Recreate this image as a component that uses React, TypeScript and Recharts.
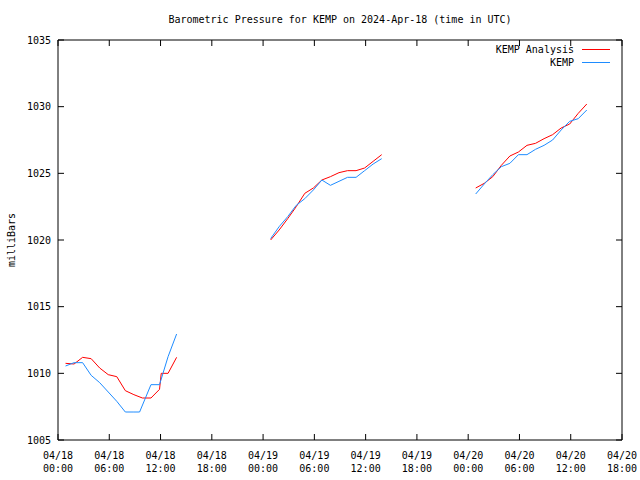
import React from 'react';
import { LineChart, Line, XAxis, YAxis, Legend, Label } from 'recharts';

const FONT = '"DejaVu Sans Mono", "Liberation Mono", monospace';

const titleText = 'Barometric Pressure for KEMP on 2024-Apr-18 (time in UTC)';
const yAxisTitle = 'milliBars';

const tickHours = [0, 6, 12, 18, 24, 30, 36, 42, 48, 54, 60, 66];
const tickDates = ['04/18', '04/18', '04/18', '04/18', '04/19', '04/19', '04/19', '04/19', '04/20', '04/20', '04/20', '04/20'];
const tickTimes = ['00:00', '06:00', '12:00', '18:00', '00:00', '06:00', '12:00', '18:00', '00:00', '06:00', '12:00', '18:00'];
const pressureTicks = [1005, 1010, 1015, 1020, 1025, 1030, 1035];

const seriesNames = ['KEMP Analysis', 'KEMP'];
const seriesColors = ['#ff0000', '#1e8cff'];

// hours since 04/18 00:00 UTC (null value = gap in record)
const analysisHours = [
  0.88, 1.88, 2.88, 3.88, 4.88, 5.88, 6.88, 7.88, 8.88, 9.88, 10.88, 11.88, 12.08, 12.88, 13.88,
  19,
  24.88, 25.88, 26.88, 27.88, 28.88, 29.88, 30.88, 31.88, 32.88, 33.88, 34.88, 35.88, 36.88, 37.88,
  43,
  48.88, 49.88, 50.88, 51.88, 52.88, 53.88, 54.88, 55.88, 56.88, 57.88, 58.88, 59.88, 60.88, 61.88,
];
const analysisValues = [
  1010.75, 1010.7, 1011.2, 1011.1, 1010.4, 1009.9, 1009.75, 1008.7, 1008.4, 1008.15, 1008.15, 1008.8, 1010.0, 1010.0, 1011.2,
  null,
  1020.0, 1020.75, 1021.6, 1022.5, 1023.5, 1023.9, 1024.5, 1024.75, 1025.05, 1025.2, 1025.2, 1025.4, 1025.9, 1026.4,
  null,
  1023.9, 1024.25, 1024.75, 1025.6, 1026.3, 1026.6, 1027.1, 1027.25, 1027.6, 1027.9, 1028.4, 1028.7, 1029.5, 1030.2,
];

const kempHours = [
  0.88, 1.88, 2.88, 3.88, 4.88, 5.88, 6.88, 7.88, 8.88, 9.55, 10.88, 11.88, 12.88, 13.88,
  19,
  24.88, 25.88, 26.88, 27.88, 28.88, 29.88, 30.88, 31.88, 32.88, 33.88, 34.88, 35.88, 36.88, 37.88,
  43,
  48.88, 49.88, 50.88, 51.88, 52.88, 53.88, 54.88, 55.88, 56.88, 57.88, 58.88, 59.88, 60.88, 61.88,
];
const kempValues = [
  1010.55, 1010.8, 1010.8, 1009.85, 1009.3, 1008.6, 1007.9, 1007.1, 1007.1, 1007.1, 1009.15, 1009.15, 1011.25, 1012.95,
  null,
  1020.1, 1021.0, 1021.75, 1022.6, 1023.1, 1023.75, 1024.5, 1024.1, 1024.4, 1024.7, 1024.7, 1025.2, 1025.7, 1026.1,
  null,
  1023.45, 1024.2, 1024.9, 1025.5, 1025.75, 1026.4, 1026.4, 1026.8, 1027.1, 1027.5, 1028.25, 1028.9, 1029.1, 1029.75,
];

const analysisData = analysisHours.map((t, i) => ({ t, p: analysisValues[i] }));
const kempData = kempHours.map((t, i) => ({ t, p: kempValues[i] }));

const TICK_LEN = 6;

const BottomTick = (props: any) => {
  const { x, y, index } = props;
  return (
    <g>
      <line x1={x} y1={y} x2={x} y2={y - TICK_LEN} stroke="#000" />
      <text x={x} y={y + 15} textAnchor="middle" dominantBaseline="central" fontFamily={FONT} fontSize={10} fill="#000">
        {tickDates[index]}
      </text>
      <text x={x} y={y + 28} textAnchor="middle" dominantBaseline="central" fontFamily={FONT} fontSize={10} fill="#000">
        {tickTimes[index]}
      </text>
    </g>
  );
};

const TopTick = (props: any) => {
  const { x, y } = props;
  return <line x1={x} y1={y} x2={x} y2={y + TICK_LEN} stroke="#000" />;
};

const LeftTick = (props: any) => {
  const { x, y, payload } = props;
  return (
    <g>
      <line x1={x} y1={y} x2={x + TICK_LEN} y2={y} stroke="#000" />
      <text x={x - 7} y={y} textAnchor="end" dominantBaseline="central" fontFamily={FONT} fontSize={10} fill="#000">
        {payload.value}
      </text>
    </g>
  );
};

const RightTick = (props: any) => {
  const { x, y } = props;
  return <line x1={x} y1={y} x2={x - TICK_LEN} y2={y} stroke="#000" />;
};

const TitleLabel = (props: any) => {
  const vb = props.viewBox || {};
  return (
    <text x={vb.x + vb.width / 2} y={vb.y - 20} textAnchor="middle" dominantBaseline="central" fontFamily={FONT} fontSize={10} fill="#000">
      {titleText}
    </text>
  );
};

const YTitleLabel = (props: any) => {
  const vb = props.viewBox || {};
  const cx = vb.x + 11;
  const cy = vb.y + vb.height / 2;
  return (
    <text x={cx} y={cy} transform={`rotate(-90, ${cx}, ${cy})`} textAnchor="middle" dominantBaseline="central" fontFamily={FONT} fontSize={10} fill="#000">
      {yAxisTitle}
    </text>
  );
};

const LegendContent = () => (
  <div style={{ fontFamily: FONT, fontSize: 10, color: '#000' }}>
    {seriesNames.map((name, i) => (
      <div key={name} style={{ display: 'flex', justifyContent: 'flex-end', alignItems: 'center', height: 13 }}>
        <span style={{ lineHeight: '13px', whiteSpace: 'pre' }}>{name}</span>
        <svg width={36} height={13} style={{ display: 'block' }}>
          <line x1={8} y1={6.5} x2={36} y2={6.5} stroke={seriesColors[i]} strokeWidth={1} />
        </svg>
      </div>
    ))}
  </div>
);

export default function App() {
  return (
    <div style={{ position: 'absolute', left: 0, top: 0, width: 640, height: 480, background: '#fff' }}>
      <LineChart width={640} height={480} margin={{ top: 39, right: 17, bottom: 0, left: 0 }}>
        <XAxis
          dataKey="t"
          type="number"
          domain={[0, 66]}
          ticks={tickHours}
          allowDataOverflow
          height={40}
          tickSize={0}
          tickMargin={0}
          tickLine={false}
          tick={<BottomTick />}
          axisLine={{ stroke: '#000' }}
          interval={0}
        />
        <XAxis
          xAxisId="top"
          orientation="top"
          dataKey="t"
          type="number"
          domain={[0, 66]}
          ticks={tickHours}
          allowDataOverflow
          height={1}
          tickSize={0}
          tickMargin={0}
          tickLine={false}
          tick={<TopTick />}
          axisLine={{ stroke: '#000' }}
          interval={0}
        >
          <Label content={<TitleLabel />} />
        </XAxis>
        <YAxis
          type="number"
          domain={[1005, 1035]}
          ticks={pressureTicks}
          allowDataOverflow
          width={58}
          tickSize={0}
          tickMargin={0}
          tickLine={false}
          tick={<LeftTick />}
          axisLine={{ stroke: '#000' }}
          interval={0}
        >
          <Label content={<YTitleLabel />} />
        </YAxis>
        <YAxis
          yAxisId="right"
          orientation="right"
          type="number"
          domain={[1005, 1035]}
          ticks={pressureTicks}
          allowDataOverflow
          width={1}
          tickSize={0}
          tickMargin={0}
          tickLine={false}
          tick={<RightTick />}
          axisLine={{ stroke: '#000' }}
          interval={0}
        />
        <Legend
          layout="vertical"
          align="center"
          verticalAlign="middle"
          content={<LegendContent />}
          wrapperStyle={{ position: 'absolute', top: 43, right: 30, left: 'auto', bottom: 'auto', width: 'auto', margin: 0 }}
        />
        <Line
          data={analysisData}
          dataKey="p"
          name={seriesNames[0]}
          type="linear"
          stroke={seriesColors[0]}
          strokeWidth={1}
          dot={false}
          activeDot={false}
          connectNulls={false}
          isAnimationActive={false}
        />
        <Line
          data={kempData}
          dataKey="p"
          name={seriesNames[1]}
          xAxisId="top"
          yAxisId="right"
          type="linear"
          stroke={seriesColors[1]}
          strokeWidth={1}
          dot={false}
          activeDot={false}
          connectNulls={false}
          isAnimationActive={false}
        />
      </LineChart>
    </div>
  );
}
